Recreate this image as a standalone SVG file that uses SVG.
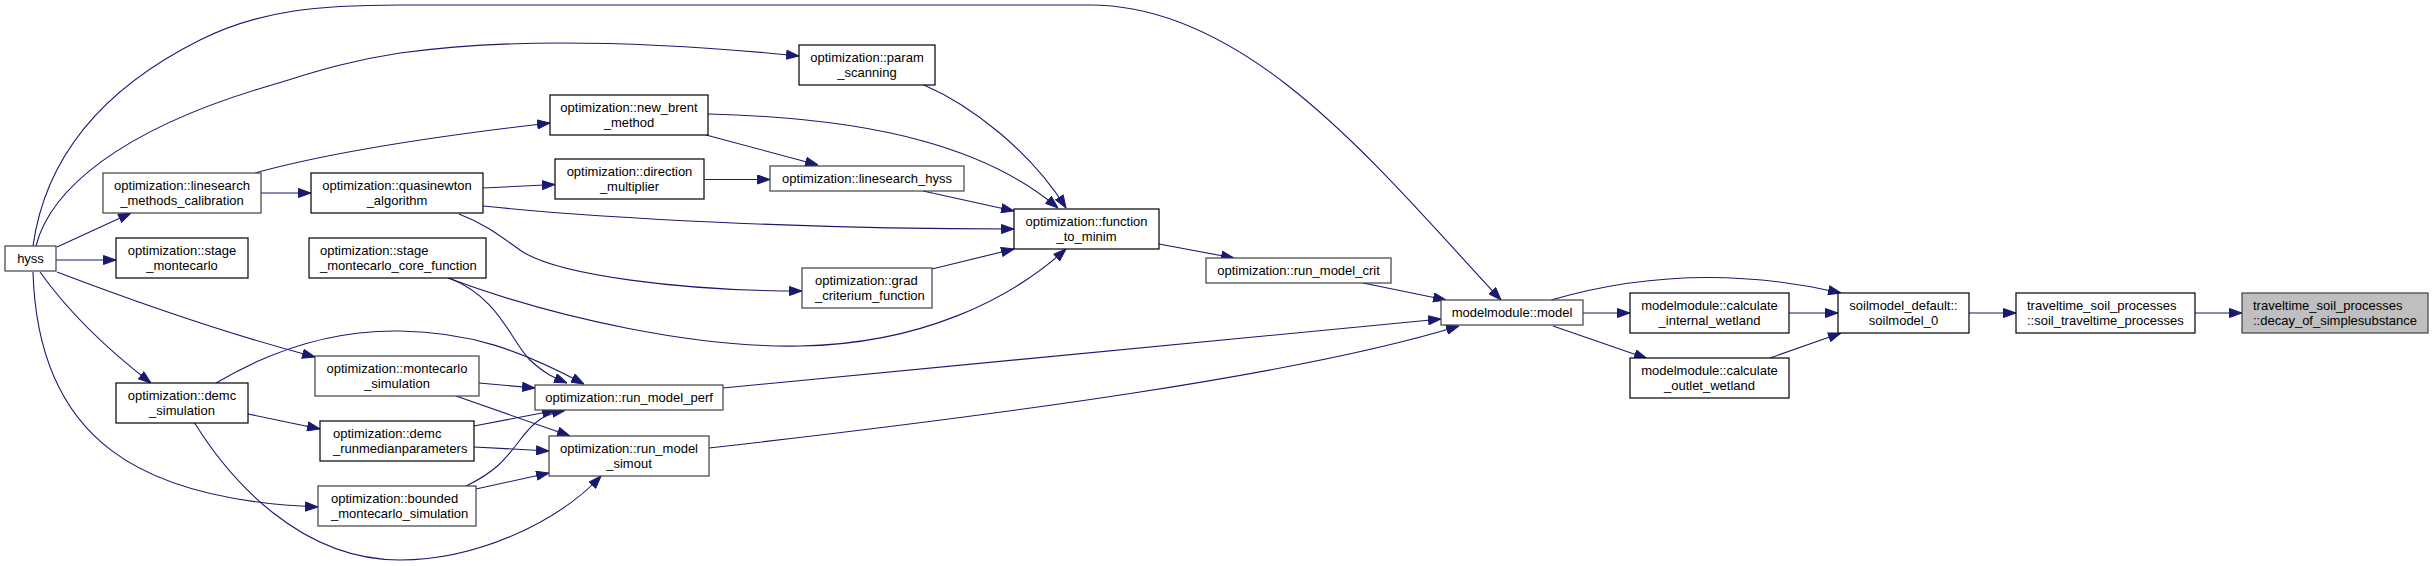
<svg xmlns="http://www.w3.org/2000/svg" width="2436" height="566" viewBox="0 0 2436 566">
<style>
.n rect{fill:#fff;stroke:#000;stroke-width:1.2}
.g rect{fill:#fff;stroke:#404040;stroke-width:1.2}
.root rect{fill:#bfbfbf;stroke:#404040;stroke-width:1.2}
text{font-family:"Liberation Sans",Arial,sans-serif;font-size:13px;fill:#000}
.c{text-anchor:middle}
#edges path{fill:none;stroke:#191970;stroke-width:1.1;marker-end:url(#ah)}
</style>
<defs>
<marker id="ah" viewBox="0 0 13 10" refX="13" refY="5" markerWidth="13" markerHeight="10" orient="auto" markerUnits="userSpaceOnUse">
<path d="M0.5,0.5 L13,5 L0.5,9.5 z" fill="#191970" stroke="#191970" stroke-width="1"/>
</marker>
</defs>
<rect width="2436" height="566" fill="#fff"/>
<g id="edges">
<path d="M57,247 L131,213"/>
<path d="M56,260 L116,260"/>
<path d="M57,272 C120,296 220,332 315,357"/>
<path d="M40,272 C60,300 95,340 151,383"/>
<path d="M33,272 C38,440 140,500 318,507"/>
<path d="M36,246 C50,190 120,130 265,87 C300,77 340,62 400,53 C460,45 520,43 560,43 C650,43 740,50 799,56"/>
<path d="M33,246 C45,160 100,90 200,40 C260,10 320,5 400,5 L1090,5 C1250,5 1380,170 1501,300"/>
<path d="M255,173 C320,155 420,138 550,123"/>
<path d="M261,193 L311,193"/>
<path d="M483,188 L555,184.5"/>
<path d="M483,206 C600,218 800,229 1014,229"/>
<path d="M459,214 C490,226 505,240 523,252 C560,275 680,291 802,291"/>
<path d="M708,114 C880,118 990,150 1058,208"/>
<path d="M924,85 C970,105 1030,150 1066,208"/>
<path d="M706,135 L818,165"/>
<path d="M704,179.5 L770,179.5"/>
<path d="M923,191 L1014,211"/>
<path d="M932,269 L1014,249"/>
<path d="M448,278 C560,320 700,348 800,346 C920,344 1010,300 1066,249"/>
<path d="M449,278 C500,298 510,340 530,360 C545,374 555,378 567,383"/>
<path d="M216,383 C280,345 340,330 400,331 C470,332 520,350 584,384"/>
<path d="M248,414 L320,429"/>
<path d="M194,422 C230,480 300,560 400,560 C480,560 560,520 601,476"/>
<path d="M479,383 L535,388"/>
<path d="M456,396 L570,436"/>
<path d="M474,426 L555,410.5"/>
<path d="M474,447 L549,451"/>
<path d="M466,486 C495,472 505,460 520,440 C535,420 545,414 565,410.5"/>
<path d="M476,489 L549,473"/>
<path d="M723,388 L1441,319"/>
<path d="M709,448 C1000,415 1300,375 1459,326"/>
<path d="M1159,244 L1234,258"/>
<path d="M1363,283 L1446,300"/>
<path d="M1583,313 L1630,313"/>
<path d="M1553,326 L1647,358.5"/>
<path d="M1551,300 C1620,280 1720,265 1841,293"/>
<path d="M1789,313 L1838,313"/>
<path d="M1770,358 L1841,333"/>
<path d="M1969,313 L2016,313"/>
<path d="M2195,313 L2242,313"/>
</g>
<g id="hyss" class="g"><rect x="5" y="246" width="51" height="25"/><text class="c" x="30.5" y="263">hyss</text></g>
<g id="linesearch_methods_calibration" class="g"><rect x="103" y="173" width="158" height="40"/><text class="c" x="182" y="190">optimization::linesearch</text><text class="c" x="182" y="204.5">_methods_calibration</text></g>
<g id="stage_montecarlo" class="n"><rect x="116" y="238" width="132" height="40"/><text class="c" x="182" y="255">optimization::stage</text><text class="c" x="182" y="269.5">_montecarlo</text></g>
<g id="quasinewton_algorithm" class="n"><rect x="311" y="173" width="172" height="40"/><text class="c" x="397" y="190">optimization::quasinewton</text><text class="c" x="397" y="204.5">_algorithm</text></g>
<g id="stage_montecarlo_core_function" class="n"><rect x="309" y="238" width="177" height="40"/><text x="320" y="255">optimization::stage</text><text x="320" y="269.5">_montecarlo_core_function</text></g>
<g id="montecarlo_simulation" class="g"><rect x="315" y="356" width="164" height="40"/><text class="c" x="397" y="373">optimization::montecarlo</text><text class="c" x="397" y="387.5">_simulation</text></g>
<g id="demc_simulation" class="n"><rect x="116" y="383" width="132" height="40"/><text class="c" x="182" y="400">optimization::demc</text><text class="c" x="182" y="414.5">_simulation</text></g>
<g id="demc_runmedianparameters" class="n"><rect x="320" y="421" width="154" height="40"/><text x="333" y="438">optimization::demc</text><text x="333" y="452.5">_runmedianparameters</text></g>
<g id="bounded_montecarlo_simulation" class="g"><rect x="318" y="486" width="158" height="40"/><text x="331" y="503">optimization::bounded</text><text x="331" y="517.5">_montecarlo_simulation</text></g>
<g id="param_scanning" class="n"><rect x="799" y="45" width="136" height="40"/><text class="c" x="867" y="62">optimization::param</text><text class="c" x="867" y="76.5">_scanning</text></g>
<g id="new_brent_method" class="n"><rect x="550" y="95" width="158" height="40"/><text class="c" x="629" y="112">optimization::new_brent</text><text class="c" x="629" y="126.5">_method</text></g>
<g id="direction_multiplier" class="n"><rect x="555" y="159" width="149" height="40"/><text class="c" x="629.5" y="176">optimization::direction</text><text class="c" x="629.5" y="190.5">_multiplier</text></g>
<g id="linesearch_hyss" class="g"><rect x="770" y="166" width="194" height="25"/><text class="c" x="867" y="183">optimization::linesearch_hyss</text></g>
<g id="grad_criterium_function" class="g"><rect x="802" y="268" width="130" height="40"/><text x="815" y="285">optimization::grad</text><text x="815" y="299.5">_criterium_function</text></g>
<g id="run_model_perf" class="g"><rect x="535" y="385" width="188" height="25"/><text class="c" x="629" y="402">optimization::run_model_perf</text></g>
<g id="run_model_simout" class="g"><rect x="549" y="436" width="160" height="40"/><text class="c" x="629" y="453">optimization::run_model</text><text class="c" x="629" y="467.5">_simout</text></g>
<g id="function_to_minim" class="n"><rect x="1014" y="209" width="145" height="40"/><text class="c" x="1086.5" y="226">optimization::function</text><text class="c" x="1086.5" y="240.5">_to_minim</text></g>
<g id="run_model_crit" class="g"><rect x="1206" y="258" width="185" height="25"/><text class="c" x="1298.5" y="275">optimization::run_model_crit</text></g>
<g id="model" class="g"><rect x="1441" y="300" width="142" height="25"/><text class="c" x="1512" y="317">modelmodule::model</text></g>
<g id="calculate_internal_wetland" class="n"><rect x="1630" y="293" width="159" height="40"/><text class="c" x="1709.5" y="310">modelmodule::calculate</text><text class="c" x="1709.5" y="324.5">_internal_wetland</text></g>
<g id="calculate_outlet_wetland" class="n"><rect x="1630" y="358" width="159" height="40"/><text class="c" x="1709.5" y="375">modelmodule::calculate</text><text class="c" x="1709.5" y="389.5">_outlet_wetland</text></g>
<g id="soilmodel_0" class="n"><rect x="1838" y="293" width="131" height="40"/><text class="c" x="1903.5" y="310">soilmodel_default::</text><text class="c" x="1903.5" y="324.5">soilmodel_0</text></g>
<g id="soil_traveltime_processes" class="n"><rect x="2016" y="293" width="179" height="40"/><text x="2027" y="310">traveltime_soil_processes</text><text x="2027" y="324.5">::soil_traveltime_processes</text></g>
<g id="decay_of_simplesubstance" class="root"><rect x="2242" y="293" width="186" height="40"/><text x="2253" y="310">traveltime_soil_processes</text><text x="2253" y="324.5">::decay_of_simplesubstance</text></g>
</svg>
